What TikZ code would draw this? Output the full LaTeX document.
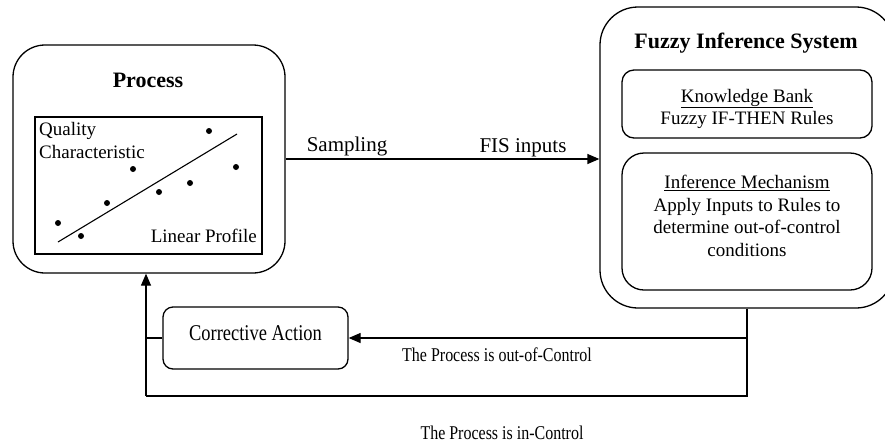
\documentclass[tikz,border=0pt]{standalone}
\usepackage{fontspec}
\setmainfont{Liberation Serif}
\newfontfamily\narrowserif[FakeStretch=0.82]{Liberation Serif}
\usetikzlibrary{arrows.meta}
\tikzset{
  bigbox/.style={draw, line width=1.3pt, inner sep=0pt},
  plotbox/.style={draw, line width=1.2pt, inner sep=0pt},
  conn/.style={line width=1.3pt},
  arr/.style={conn, -{Triangle[length=12pt, width=10pt]}},
  txt/.style={inner sep=0pt, align=center, font=\fontsize{19}{22.7}\selectfont},
  ttl/.style={inner sep=0pt, font=\fontsize{22}{26}\selectfont\bfseries},
  lbl/.style={inner sep=0pt, font=\narrowserif\fontsize{19.5}{23}\selectfont},
  dot/.style={fill=black, circle, inner sep=0pt, minimum size=6pt},
}
\begin{document}
\begin{tikzpicture}[x=1pt, y=-1pt]
\useasboundingbox (0,0) rectangle (885,445);

% Process block with the linear profile plot
\node[bigbox, rounded corners=32pt, minimum width=272pt, minimum height=228pt] (proc) at (149,159) {};
\node[ttl] (proctitle) at (148,80) {Process};
\node[plotbox, minimum width=227pt, minimum height=137pt] (plot) at (148.5,185.5) {};
\node[txt, anchor=west] (qual) at (39,131) {Quality};
\node[txt, anchor=west] (charac) at (39,152) {Characteristic};
\node[txt, anchor=east] (linprof) at (257,236) {Linear Profile};
\coordinate (fitA) at (58,242);
\coordinate (fitB) at (237,134);
\draw[line width=1.1pt] (fitA) -- (fitB);
\foreach \px/\py [count=\i] in {209/131, 133/169, 236/167, 190/183, 159/192, 107/203, 58/223, 81/236}
  \node[dot] (pt\i) at (\px,\py) {};

% Fuzzy inference system
\node[bigbox, rounded corners=38pt, minimum width=294pt, minimum height=301pt] (fis) at (747,157.5) {};
\node[ttl] (fistitle) at (746,43) {Fuzzy Inference System};
\node[bigbox, rounded corners=12pt, minimum width=250pt, minimum height=68pt] (kb) at (747,104) {};
\node[txt] (kbtext) at (747,109) {\underline{Knowledge Bank}\\Fuzzy IF-THEN Rules};
\node[bigbox, rounded corners=22pt, minimum width=250pt, minimum height=137pt] (im) at (747,221.5) {};
\node[txt] (imtext) at (747,216) {\underline{Inference Mechanism}\\Apply Inputs to Rules to\\determine out-of-control\\conditions};

% Corrective action
\node[bigbox, rounded corners=10pt, minimum width=185pt, minimum height=62pt] (ca) at (255.5,338) {};
\node[txt, font=\narrowserif\fontsize{22.5}{26}\selectfont] (catext) at (255.5,333) {Corrective Action};

% Sampling link
\draw[arr] (proc.east) -- (proc.east -| fis.west);
\node[txt, font=\fontsize{21}{24}\selectfont] (samp) at (347,146) {Sampling};
\node[txt, font=\fontsize{21}{24}\selectfont] (fisin) at (523,148) {FIS inputs};

% Feedback loops
\coordinate (bl) at (146,396);
\coordinate (br) at (fis.south |- bl);
\draw[arr] (fis.south |- ca.east) -- (ca.east);
\draw[conn] (fis.south) -- (br) -- (bl);
\draw[conn] (ca.west) -- (ca.west -| bl);
\draw[arr] (bl) -- (bl |- proc.south);
\node[lbl] (outc) at (497,355) {The Process is out-of-Control};
\node[lbl] (inc) at (502,433) {The Process is in-Control};
\end{tikzpicture}
\end{document}
